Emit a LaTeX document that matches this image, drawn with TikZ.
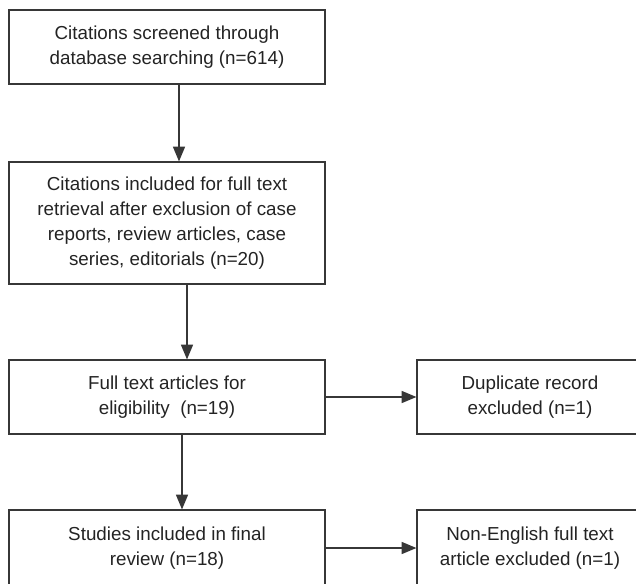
\documentclass[tikz,border=0pt]{standalone}
\usepackage{fontspec}
\setmainfont{Liberation Sans}
\usetikzlibrary{
    arrows.meta,
    positioning
}
\definecolor{lineC}{RGB}{55,55,55}
\definecolor{textC}{RGB}{35,35,35}
\tikzset{
  block/.style   = {draw=lineC, line width=0.9pt, minimum width=237pt,
                    inner sep=0pt, align=center, text=textC,
                    font=\fontsize{14.1}{18.8}\selectfont},
  sblock/.style  = {block, minimum width=169.5pt},
  arr/.style     = {-{Triangle[length=11pt, width=9pt]}, lineC, line width=0.9pt}
}

\begin{document}
\begin{tikzpicture}[x=0.75pt, y=-0.75pt]

  %% ── Frame ─────────────────────────────────────────────────────
  \useasboundingbox (0,0) rectangle (636,583);
  \clip (0,0) rectangle (636,583);

  %% ── Boxes ─────────────────────────────────────────────────────
  \node[block, minimum height=55.5pt] (screen) at (167, 47)
    {Citations screened through\\database searching (n=614)};
  \node[block, minimum height=91.5pt] (retr) at (167,223)
    {Citations included for full text\\retrieval after exclusion of case\\%
     reports, review articles, case\\series, editorials (n=20)};
  \node[block, minimum height=55.5pt] (elig) at (167,397)
    {Full text articles for\\eligibility~ (n=19)};
  \node[block, minimum height=57pt] (final) at (167,548)
    {Studies included in final\\review (n=18)};
  \node[sblock, minimum height=55.5pt] (dupl) at (530,397)
    {Duplicate record\\excluded (n=1)};
  \node[sblock, minimum height=57pt] (nonen) at (530,548)
    {Non-English full text\\article excluded (n=1)};

  %% ── Vertical arrows ───────────────────────────────────────────
  \draw[arr] ([xshift=9pt]screen.south)  -- ([xshift=9pt]retr.north);
  \draw[arr] ([xshift=15pt]retr.south)   -- ([xshift=15pt]elig.north);
  \draw[arr] ([xshift=11.25pt]elig.south) -- ([xshift=11.25pt]final.north);

  %% ── Horizontal arrows ─────────────────────────────────────────
  \draw[arr] (elig)  -- (dupl);
  \draw[arr] (final) -- (nonen);

\end{tikzpicture}
\end{document}
